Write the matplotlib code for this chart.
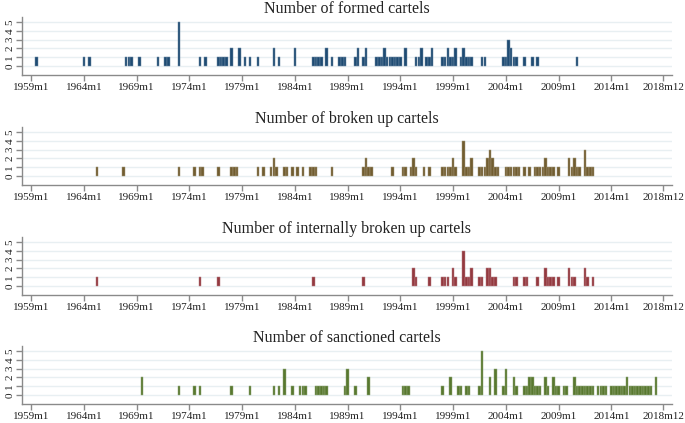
import matplotlib
matplotlib.use("Agg")
import matplotlib.pyplot as plt
from matplotlib.colors import to_rgb

# ---------------- data (dates as decimal years, quarterly resolution) ----------------
formed_dates = [1959.5, 1964.0, 1964.5, 1968.0, 1968.25, 1968.5, 1969.25, 1971.0, 1971.75, 1972.0,
                1973.0, 1975.0, 1975.5, 1976.75, 1977.0, 1977.25, 1977.5, 1978.0, 1978.75, 1979.25,
                1979.75, 1980.5, 1982.0, 1982.5, 1984.0, 1985.75, 1986.0, 1986.25, 1986.5, 1987.0,
                1987.5, 1988.25, 1988.5, 1988.75, 1989.75, 1990.0, 1990.5, 1990.75, 1991.75, 1992.0,
                1992.25, 1992.5, 1992.75, 1993.0, 1993.25, 1993.5, 1993.75, 1994.0, 1994.5, 1995.5,
                1995.75, 1996.0, 1996.5, 1996.75, 1997.0, 1998.0, 1998.25, 1998.5, 1998.75, 1999.0,
                1999.25, 1999.75, 2000.0, 2000.25, 2000.5, 2000.75, 2001.75, 2002.0, 2003.75, 2004.0,
                2004.25, 2004.5, 2004.75, 2005.0, 2005.75, 2006.5, 2007.0, 2010.75]
formed_counts = [1, 1, 1, 1, 1, 1, 1, 1, 1, 1,
                 5, 1, 1, 1, 1, 1, 1, 2, 2, 1,
                 1, 1, 2, 1, 2, 1, 1, 1, 1, 2,
                 1, 1, 1, 1, 1, 2, 1, 2, 1, 1,
                 1, 2, 1, 1, 1, 1, 1, 1, 2, 1,
                 1, 2, 1, 1, 2, 1, 1, 2, 1, 1,
                 2, 1, 2, 1, 1, 1, 1, 1, 1, 1,
                 3, 2, 1, 1, 1, 1, 1, 1]

broken_dates = [1965.25, 1967.75, 1973.0, 1974.5, 1975.0, 1975.25, 1976.75, 1978.0, 1978.25, 1978.5,
                1980.5, 1981.0, 1981.75, 1982.0, 1982.25, 1983.0, 1983.25, 1983.75, 1984.25, 1984.75,
                1985.5, 1985.75, 1986.0, 1987.5, 1990.5, 1990.75, 1991.0, 1991.25, 1993.25, 1994.25,
                1994.5, 1995.0, 1995.25, 1995.5, 1996.25, 1996.75, 1998.0, 1998.25, 1998.5, 1998.75,
                1999.0, 1999.25, 2000.0, 2000.25, 2000.5, 2000.75, 2001.5, 2001.75, 2002.0, 2002.25,
                2002.5, 2002.75, 2003.0, 2003.25, 2004.0, 2004.25, 2004.5, 2004.75, 2005.0, 2005.25,
                2005.75, 2006.25, 2006.75, 2007.0, 2007.25, 2007.5, 2007.75, 2008.0, 2008.25, 2008.5,
                2009.0, 2010.0, 2010.25, 2010.5, 2010.75, 2011.0, 2011.5, 2011.75, 2012.0, 2012.25]
broken_counts = [1, 1, 1, 1, 1, 1, 1, 1, 1, 1,
                 1, 1, 1, 2, 1, 1, 1, 1, 1, 1,
                 1, 1, 1, 1, 1, 2, 1, 1, 1, 1,
                 1, 1, 2, 1, 1, 1, 1, 1, 1, 1,
                 2, 1, 4, 1, 1, 2, 1, 1, 1, 2,
                 3, 2, 1, 1, 1, 1, 1, 1, 1, 1,
                 1, 1, 1, 1, 1, 1, 2, 1, 1, 1,
                 1, 2, 1, 2, 1, 1, 3, 1, 1, 1]

internal_dates = [1965.25, 1975.0, 1976.75, 1985.75, 1990.5, 1995.25, 1995.5, 1996.75, 1998.0, 1998.25,
                  1998.5, 1999.0, 1999.25, 2000.0, 2000.25, 2000.5, 2000.75, 2001.5, 2001.75, 2002.25,
                  2002.5, 2002.75, 2003.0, 2004.75, 2005.0, 2005.75, 2006.0, 2007.0, 2007.75, 2008.0,
                  2008.25, 2008.5, 2009.0, 2010.0, 2010.25, 2010.5, 2011.5, 2011.75, 2012.25]
internal_counts = [1, 1, 1, 1, 1, 2, 1, 1, 1, 1,
                   1, 2, 1, 4, 1, 1, 2, 1, 1, 2,
                   2, 1, 1, 1, 1, 1, 1, 1, 2, 1,
                   1, 1, 1, 2, 1, 1, 2, 1, 1]

sanction_dates = [1969.5, 1973.0, 1974.5, 1975.0, 1978.0, 1979.75, 1982.0, 1982.5, 1983.0, 1983.75,
                  1984.5, 1984.75, 1985.0, 1986.0, 1986.25, 1986.5, 1986.75, 1987.0, 1988.75, 1989.0,
                  1989.75, 1991.0, 1994.25, 1994.5, 1994.75, 1998.0, 1998.75, 1999.5, 1999.75, 2000.25,
                  2000.5, 2001.5, 2001.75, 2002.5, 2003.0, 2003.75, 2004.0, 2004.75, 2005.0, 2005.75,
                  2006.0, 2006.25, 2006.5, 2006.75, 2007.0, 2007.25, 2007.75, 2008.0, 2008.5, 2008.75,
                  2009.0, 2009.5, 2009.75, 2010.5, 2010.75, 2011.0, 2011.25, 2011.5, 2011.75, 2012.0,
                  2012.25, 2012.75, 2013.0, 2013.25, 2013.5, 2014.0, 2014.25, 2014.5, 2014.75, 2015.0,
                  2015.25, 2015.5, 2015.75, 2016.0, 2016.25, 2016.5, 2016.75, 2017.0, 2017.25, 2017.5,
                  2017.75, 2018.25]
sanction_counts = [2, 1, 1, 1, 1, 1, 1, 1, 3, 1,
                   1, 1, 1, 1, 1, 1, 1, 1, 1, 3,
                   1, 2, 1, 1, 1, 1, 2, 1, 1, 1,
                   1, 1, 5, 2, 3, 1, 3, 2, 1, 1,
                   1, 2, 2, 1, 1, 1, 2, 1, 2, 1,
                   1, 1, 1, 2, 1, 1, 1, 1, 1, 1,
                   1, 1, 1, 1, 1, 1, 1, 1, 1, 1,
                   1, 2, 1, 1, 1, 1, 1, 1, 1, 1,
                   1, 2]

titles = ["Number of formed cartels", "Number of broken up cartels",
          "Number of internally broken up cartels", "Number of sanctioned cartels"]
colors = ["#1f4b73", "#715d30", "#93393f", "#58782f"]

tick_labels = ["1959m1", "1964m1", "1969m1", "1974m1", "1979m1", "1984m1", "1989m1",
               "1994m1", "1999m1", "2004m1", "2009m1", "2014m1", "2018m12"]
tick_months = [0, 60, 120, 180, 240, 300, 360, 420, 480, 540, 600, 660, 719]

series = [(formed_dates, formed_counts), (broken_dates, broken_counts),
          (internal_dates, internal_counts), (sanction_dates, sanction_counts)]

# ---------------- figure ----------------
W, H = 685, 423
fig = plt.figure(figsize=(W / 100, H / 100), dpi=100)
fig.patch.set_facecolor("white")
serif = ["Liberation Serif", "DejaVu Serif"]

unit_px = 8.86
y_lo, y_hi = -1.0, 5.6
bottoms_px = [75, 185, 295, 404]
ax_h_px = (y_hi - y_lo) * unit_px
left_px, right_px = 22, 672


def lighter(c, f=0.35):
    r, g, b = to_rgb(c)
    return (r + (1 - r) * f, g + (1 - g) * f, b + (1 - b) * f)


axis_col = "#8a8a8a"
for i, ((dates, counts), title, col) in enumerate(zip(series, titles, colors)):
    b = bottoms_px[i]
    ax = fig.add_axes([left_px / W, 1 - b / H, (right_px - left_px) / W, ax_h_px / H])
    months = [(d - 1959.0) * 12 for d in dates]
    ax.bar(months, counts, width=2.9, bottom=0, color=col, edgecolor=lighter(col),
           linewidth=0.35, align="center", zorder=3)
    ax.set_xlim(-10.5, 729)
    ax.set_ylim(y_lo, y_hi)
    ax.set_yticks(range(6))
    ax.set_yticklabels([str(k) for k in range(6)], rotation=90, va="center",
                       fontsize=8, family=serif)
    ax.set_xticks(tick_months)
    ax.set_xticklabels(tick_labels, fontsize=8, family=serif)
    ax.grid(axis="y", color="#e8eff2", linewidth=1.0, zorder=0)
    ax.grid(axis="x", visible=False)
    for s in ["top", "right"]:
        ax.spines[s].set_visible(False)
    for s in ["left", "bottom"]:
        ax.spines[s].set_color(axis_col)
        ax.spines[s].set_linewidth(1.0)
    ax.tick_params(axis="both", colors=axis_col, length=4, width=1.0, pad=1.5,
                   labelcolor="#222222")
    ax.set_facecolor("white")
    ax.set_title(title, fontsize=11.5, family=serif, color="#222222", pad=1)

fig.savefig("out.png", dpi=100, facecolor="white")
